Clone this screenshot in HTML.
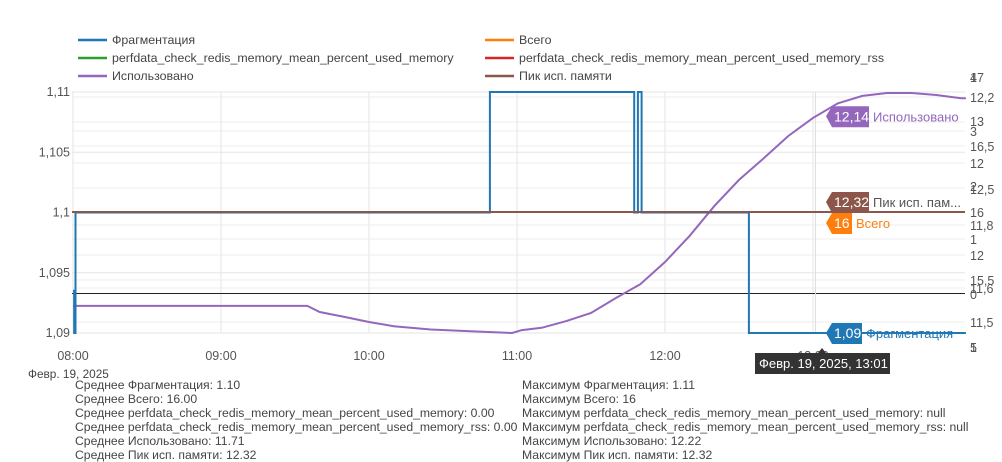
<!DOCTYPE html>
<html><head><meta charset="utf-8">
<style>
body{margin:0;background:#fff;font-family:"Liberation Sans","DejaVu Sans",sans-serif;}
#wrap{position:relative;width:1002px;height:462px;overflow:hidden;}
svg text{font-family:"Liberation Sans","DejaVu Sans",sans-serif;}
.stats{position:absolute;font-size:12.2px;color:#444;line-height:13.9px;white-space:nowrap;}
</style></head>
<body>
<div id="wrap">
<svg id="chart" width="1002" height="462"></svg>
<div class="stats" style="left:75px;top:379px">
Среднее Фрагментация: 1.10<br>Среднее Всего: 16.00<br>Среднее perfdata_check_redis_memory_mean_percent_used_memory: 0.00<br>Среднее perfdata_check_redis_memory_mean_percent_used_memory_rss: 0.00<br>Среднее Использовано: 11.71<br>Среднее Пик исп. памяти: 12.32</div>
<div class="stats" style="left:522px;top:379px">
Максимум Фрагментация: 1.11<br>Максимум Всего: 16<br>Максимум perfdata_check_redis_memory_mean_percent_used_memory: null<br>Максимум perfdata_check_redis_memory_mean_percent_used_memory_rss: null<br>Максимум Использовано: 12.22<br>Максимум Пик исп. памяти: 12.32</div>
</div>
<script>
const timeTicks=["08:00","09:00","10:00","11:00","12:00","13:00"];
const leftTicks=[1.09,1.095,1.1,1.105,1.11];
const fragTimes=[0,0.5,1,169,226,227.5,229,230.5,274,362];
const fragValues=[1.0935,1.09,1.1,1.11,1.11,1.1,1.11,1.1,1.09,1.09];
const usedTimes=[0,95,100,110,120,130,145,160,178,182,190,200,210,220,230,240,250,260,270,280,290,300,310,320,330,340,350,360,362];
const usedValues=[11.553,11.553,11.534,11.519,11.503,11.49,11.48,11.475,11.469,11.478,11.485,11.506,11.531,11.577,11.62,11.689,11.77,11.862,11.943,12.01,12.079,12.135,12.18,12.203,12.212,12.212,12.206,12.196,12.196];
const totalValue=[16];
const peakValue=[12.32];
const rightTicks=[["4",77],["17",77],["12,2",97],["13",121],["3",131],["16,5",146],["12",163],["2",186],["12,5",189],["16",212],["11,8",225],["1",239],["12",255],["15,5",280],["11,6",288],["0",294],["11,5",322],["1",347],["5",347]];
const extraGrid=[97,122,131,146,163,188,225,239,255,280,288,322];

const X0=73, PXH=148, L=72, R=965, T=92, B=333;
const xS=m=>X0+m/60*PXH;
const yL=v=>B-(v-1.09)/0.02*(B-T);
const yU=v=>323-(v-11.5)*323;
const NS="http://www.w3.org/2000/svg";
const svg=document.getElementById('chart');
function mk(tag,attrs,parent){const e=document.createElementNS(NS,tag);for(const k in attrs)e.setAttribute(k,attrs[k]);(parent||svg).appendChild(e);return e;}

extraGrid.forEach(y=>{const g=mk('line',{x1:L,x2:R,y1:y,y2:y,stroke:'#eeeeee'});

});
leftTicks.forEach(v=>{const y=yL(v);const g=mk('line',{x1:L,x2:R,y1:y,y2:y,stroke:'#e6e6e6'});


const t=mk('text',{x:L-2,y:y+4,'text-anchor':'end','font-size':12.5,fill:'#555'});t.textContent=String(v).replace('.',',');

});
timeTicks.forEach((s,i)=>{const x=xS(i*60);const g=mk('line',{x1:x,x2:x,y1:T,y2:B,stroke:'#e6e6e6'});


const t=mk('text',{x:x,y:360,'text-anchor':'middle','font-size':12.5,fill:'#555'});t.textContent=s;

});
const dl=mk('text',{x:28,y:378,'font-size':11.8,fill:'#444'});dl.textContent='Февр. 19, 2025';


rightTicks.forEach(([s,y])=>{const t=mk('text',{x:970,y:y+5,'font-size':12.5,fill:'#555'});t.textContent=s;

});
const z=mk('line',{x1:L,x2:R,y1:293.5,y2:293.5,stroke:'#222','stroke-width':1});


const ch=mk('line',{x1:xS(301),x2:xS(301),y1:T,y2:B,stroke:'#ddd'});


let d=usedTimes.map((t,i)=>(i?'L':'M')+xS(t).toFixed(1)+' '+yU(usedValues[i]).toFixed(1)).join(' ');
const up=mk('path',{d:d,fill:'none',stroke:'#9467bd','stroke-width':2});


let fd='';fragTimes.forEach((t,i)=>{const x=xS(t).toFixed(1),y=yL(fragValues[i]).toFixed(1);
 if(i===0)fd='M'+x+' '+y;else fd+=' L'+x+' '+yL(fragValues[i-1]).toFixed(1)+' L'+x+' '+y;});
const fp=mk('path',{d:fd,fill:'none',stroke:'#1f77b4','stroke-width':2});


const tl=mk('line',{x1:L,x2:R,y1:212,y2:212,stroke:'#ff7f0e','stroke-width':2});


const pl=mk('line',{x1:L,x2:R,y1:212,y2:212,stroke:'#8c564b','stroke-width':2});



function flag(name,y,w,bg,val,label,lc){
 const g=mk('g',{});
 
 
 mk('path',{d:`M826 ${y} L832 ${y-10} L${832+w} ${y-10} L${832+w} ${y+11} L832 ${y+11} Z`,fill:bg},g);
 const a=mk('text',{x:834,y:y+5,'font-size':14,fill:'#fff'},g);a.textContent=val;
 const b=mk('text',{x:836+w,y:y+5,'font-size':13,fill:lc},g);b.textContent=label;
}
flag('used-flag',yU(12.14),37,'#9467bd','12,14','Использовано','#9467bd');
flag('peak-flag',202,37,'#8c564b','12,32','Пик исп. пам...','#555');
flag('total-flag',223,20,'#ff7f0e','16','Всего','#ff7f0e');
flag('fragmentation-flag',333,30,'#1f77b4','1,09','Фрагментация','#1f77b4');
const tg=mk('g',{});


mk('path',{d:'M755 353 L818 353 L822 348 L826 353 L890 353 L890 374 L755 374 Z',fill:'#333'},tg);
const tt=mk('text',{x:759,y:368,'font-size':13,fill:'#fff'},tg);tt.textContent='Февр. 19, 2025, 13:01';

const leg=[['Фрагментация','#1f77b4',78,40],['perfdata_check_redis_memory_mean_percent_used_memory','#2ca02c',78,58],['Использовано','#9467bd',78,76],
['Всего','#ff7f0e',485,40],['perfdata_check_redis_memory_mean_percent_used_memory_rss','#d62728',485,58],['Пик исп. памяти','#8c564b',485,76]];
leg.forEach(([s,c,x,y])=>{const g=mk('g',{});
 
 
 mk('line',{x1:x,x2:x+29,y1:y,y2:y,stroke:c,'stroke-width':2.5},g);
 const t=mk('text',{x:x+34,y:y+4,'font-size':12.4,fill:'#444'},g);t.textContent=s;});
</script>
</body></html>
